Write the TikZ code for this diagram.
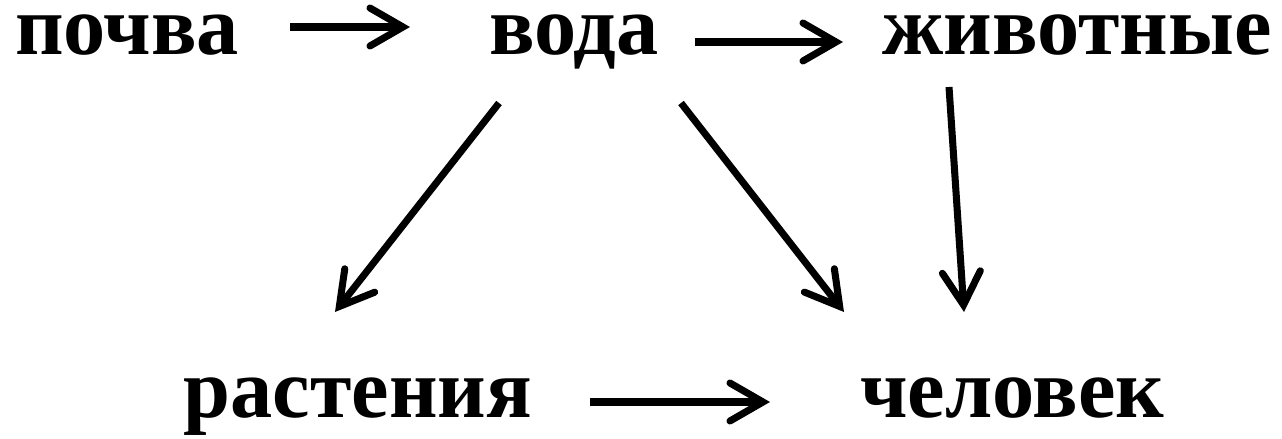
\documentclass[tikz,border=0pt]{standalone}
\usepackage{fontspec}
\setmainfont{Liberation Serif}
\usepackage{tikz}
\usetikzlibrary{arrows.meta, positioning}
\tikzset{
    word/.style={
        anchor=base,
        inner sep=0pt,
        text height=0.46cm,
        text depth=0.14cm,
        font=\fontsize{24}{28}\selectfont\bfseries
    },
    link/.style={
        draw=black,
        line width=2pt,
        -{Straight Barb[length=3.3mm,width=3.8mm,line cap=round,line join=miter]}
    }
}

\begin{document}
\begin{tikzpicture}
\useasboundingbox (0,0) rectangle (12.82,4.39);

% Top row
\node[word] (pochva) at (1.27,3.84) {почва};
\node[word] (voda) at (5.74,3.84) {вода};
\node[word] (zhivotnye) at (10.77,3.84) {животные};

% Bottom row
\node[word] (rastenia) at (3.58,0.21) {растения};
\node[word] (chelovek) at (10.12,0.21) {человек};

\draw[link] ([shift={(1.63,0.28)}]pochva.base) -- ([shift={(-1.64,0.28)}]voda.base);
\draw[link] ([shift={(1.21,0.13)}]voda.base) -- ([shift={(-2.34,0.13)}]zhivotnye.base);
\draw[link] ([shift={(-0.75,-0.48)}]voda.base) -- ([shift={(-0.23,1.06)}]rastenia.base);
\draw[link] ([shift={(1.07,-0.48)}]voda.base) -- ([shift={(-1.68,1.06)}]chelovek.base);
\draw[link] ([shift={(-1.28,-0.32)}]zhivotnye.base) -- ([shift={(-0.48,1.06)}]chelovek.base);
\draw[link] ([shift={(2.32,0.16)}]rastenia.base) -- ([shift={(-2.42,0.16)}]chelovek.base);

\end{tikzpicture}
\end{document}
